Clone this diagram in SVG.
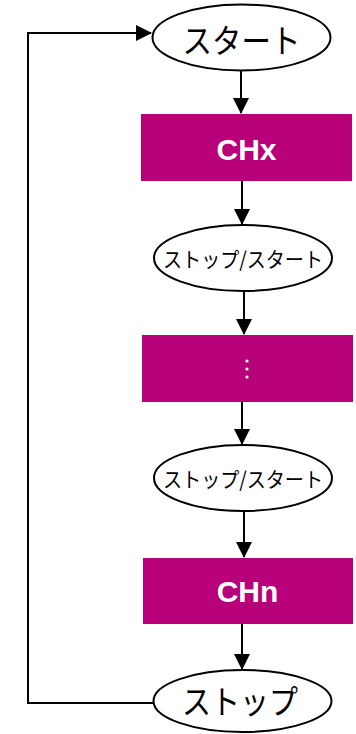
<svg xmlns="http://www.w3.org/2000/svg" width="356" height="734" viewBox="0 0 356 734">
<style>
.term{fill:#fff;stroke:#000;stroke-width:2}
.proc{fill:#B8007A}
.jt{font-family:"Noto Sans CJK JP","Liberation Sans",sans-serif;fill:#000;text-anchor:middle;dominant-baseline:central}
.pt{font-family:"Liberation Sans",Arial,sans-serif;font-weight:bold;fill:#fff;text-anchor:middle;font-size:30px}
.edge{fill:none;stroke:#000;stroke-width:2}
</style>
<defs>
<marker id="ah" markerWidth="16" markerHeight="16" viewBox="0 0 16 16" refX="15" refY="8" orient="auto" markerUnits="userSpaceOnUse">
<path d="M0,0 L16,8 L0,16 Z" fill="#000"/>
</marker>
</defs>
<g id="connectors">
<line class="edge" x1="241" y1="70" x2="241" y2="113" marker-end="url(#ah)"/>
<line class="edge" x1="242" y1="181" x2="242" y2="224" marker-end="url(#ah)"/>
<line class="edge" x1="244" y1="291" x2="244" y2="334" marker-end="url(#ah)"/>
<line class="edge" x1="242" y1="402" x2="242" y2="444" marker-end="url(#ah)"/>
<line class="edge" x1="244" y1="511" x2="244" y2="557" marker-end="url(#ah)"/>
<line class="edge" x1="242" y1="624" x2="242" y2="669" marker-end="url(#ah)"/>
<polyline class="edge" points="153,703 28,703 28,33 151,33" marker-end="url(#ah)"/>
</g>
<g id="start">
<ellipse class="term" cx="241.5" cy="37.5" rx="89" ry="33"/>
<text class="jt" x="241.5" y="39" font-size="33" textLength="118" lengthAdjust="spacingAndGlyphs">スタート</text>
</g>
<g id="chx">
<rect class="proc" x="141" y="114" width="211" height="67"/>
<text class="pt" x="246.5" y="160">CHx</text>
</g>
<g id="ss1">
<ellipse class="term" cx="243" cy="258" rx="89" ry="33"/>
<text class="jt" x="243" y="257.5" font-size="21" textLength="160" lengthAdjust="spacingAndGlyphs">ストップ/スタート</text>
</g>
<g id="dots">
<rect class="proc" x="142" y="335" width="211" height="67"/>
<circle cx="247" cy="361" r="1.6" fill="#fff"/>
<circle cx="247" cy="369" r="1.6" fill="#fff"/>
<circle cx="247" cy="377" r="1.6" fill="#fff"/>
</g>
<g id="ss2">
<ellipse class="term" cx="243" cy="478" rx="89" ry="33"/>
<text class="jt" x="243" y="477.5" font-size="21" textLength="160" lengthAdjust="spacingAndGlyphs">ストップ/スタート</text>
</g>
<g id="chn">
<rect class="proc" x="143" y="558" width="210" height="66"/>
<text class="pt" x="247.5" y="602">CHn</text>
</g>
<g id="stop">
<ellipse class="term" cx="242.5" cy="701" rx="89" ry="31"/>
<text class="jt" x="240" y="700" font-size="33" textLength="116" lengthAdjust="spacingAndGlyphs">ストップ</text>
</g>
</svg>
